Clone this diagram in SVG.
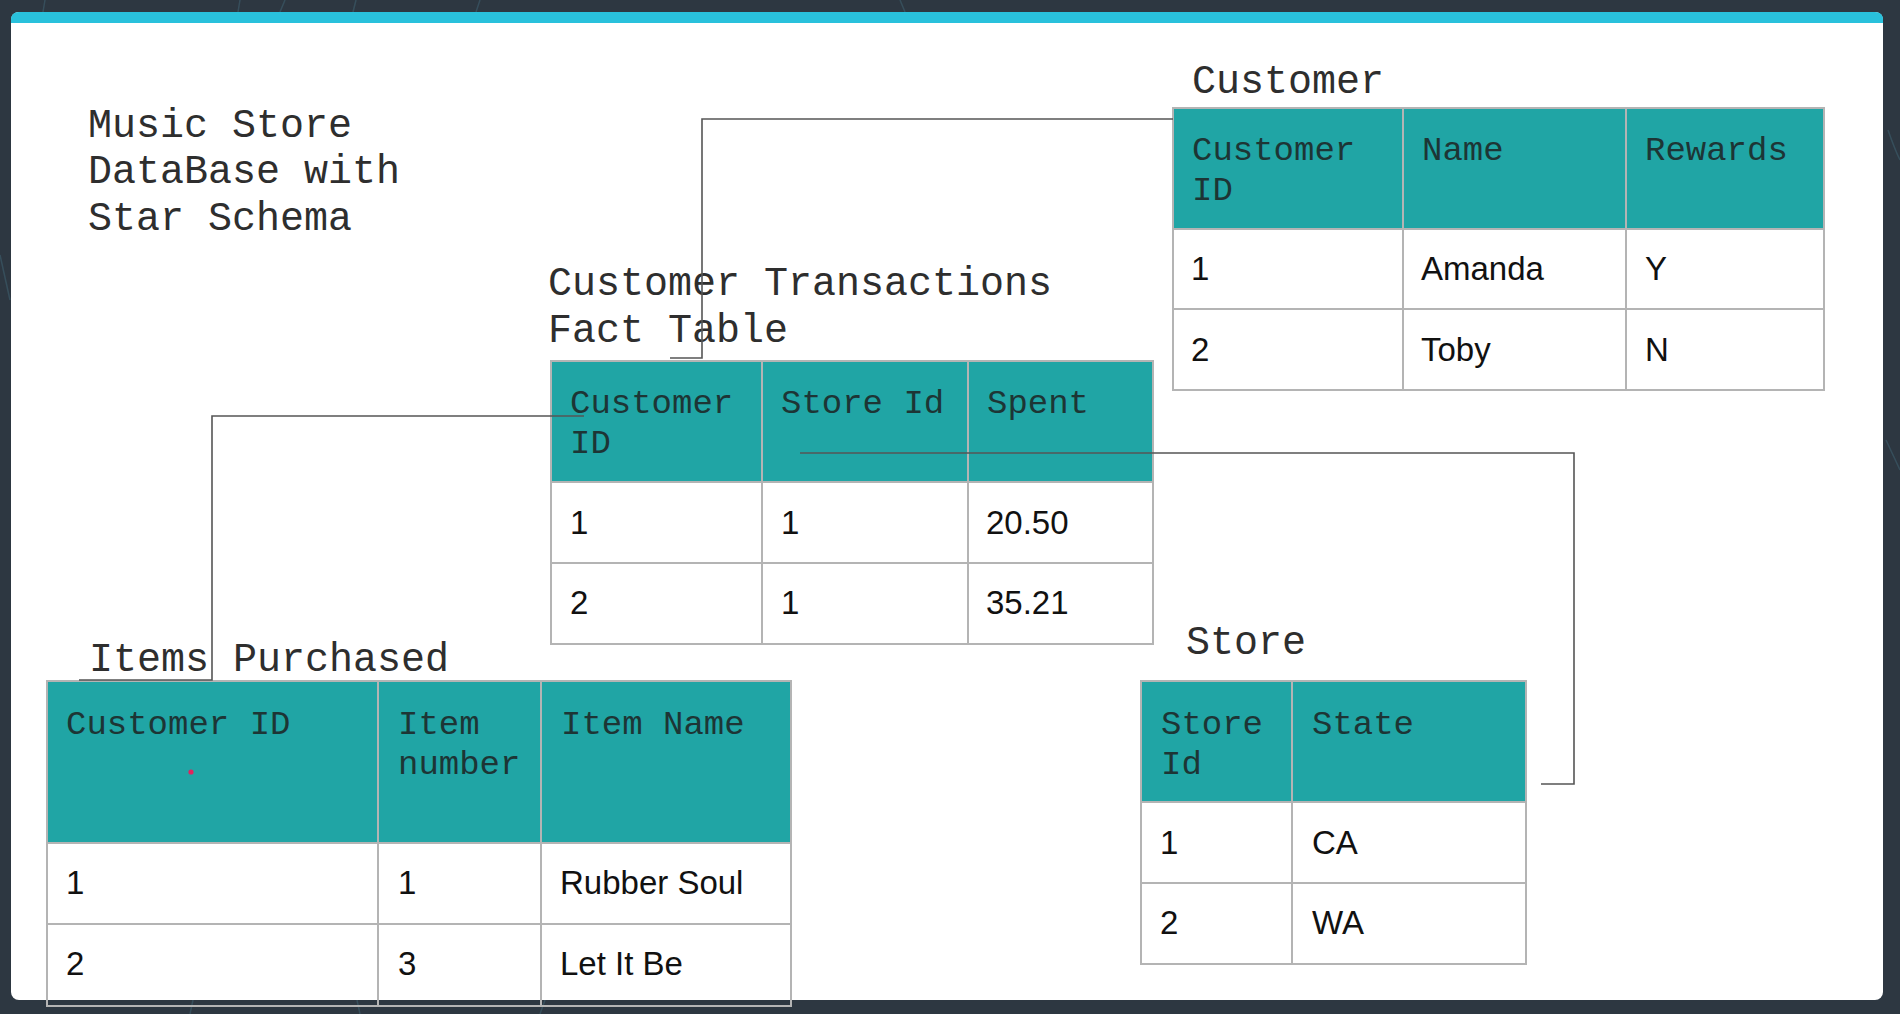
<svg xmlns="http://www.w3.org/2000/svg" width="1900" height="1014" viewBox="0 0 1900 1014">
<style>
.title{font-family:"Liberation Mono","Courier New",monospace;font-size:40px;fill:#2e2e2e}
.hd{font-family:"Liberation Mono","Courier New",monospace;font-size:34px;fill:#1d3535}
.dt{font-family:"Liberation Sans",Arial,sans-serif;font-size:33px;fill:#111}
.hfill{fill:#20a5a5}
.cfill{fill:#ffffff}
.grid{stroke:#b4b4b4;stroke-width:2;fill:none}
.conn{stroke:#555;stroke-width:1.6;fill:none}
.deco{stroke:#3b5866;stroke-width:1.5;fill:none;opacity:0.7}
</style>
<rect x="0" y="0" width="1900" height="1014" fill="#2d3741"/>
<g id="background-lines">
<path class="deco" d="M45 0 L43 12"/>
<path class="deco" d="M240 0 L238 12"/>
<path class="deco" d="M285 0 L280 12"/>
<path class="deco" d="M356 0 L353 12"/>
<path class="deco" d="M480 0 L476 12"/>
<path class="deco" d="M900 0 L905 12"/>
<path class="deco" d="M1888 130 Q1895 150 1900 160"/>
<path class="deco" d="M1886 440 L1900 470"/>
<path class="deco" d="M190 1014 L193 1000"/>
<path class="deco" d="M360 1014 L357 1000"/>
<path class="deco" d="M540 1014 L545 1000"/>
<path class="deco" d="M0 255 L10 300"/>
</g>
<g id="card">
<rect x="11" y="12" width="1872" height="988" rx="8" fill="#ffffff"/>
<path d="M11 23 L11 20 Q11 12 19 12 L1875 12 Q1883 12 1883 20 L1883 23 Z" fill="#29c1dc"/>
</g>
<g id="title">
<text class="title" x="88" y="137">Music Store</text>
<text class="title" x="88" y="183">DataBase with</text>
<text class="title" x="88" y="230">Star Schema</text>
</g>
<g id="customer-table">
<text class="title" x="1192" y="93">Customer</text>
<rect class="hfill" x="1173" y="108" width="651" height="121"/>
<rect class="cfill" x="1173" y="229" width="651" height="161"/>
<path class="grid" d="M1173 108 H1824 V390 H1173 Z M1173 229 H1824 M1173 309 H1824 M1403 108 V390 M1626 108 V390"/>
<text class="hd" x="1192" y="160">Customer</text>
<text class="hd" x="1192" y="200">ID</text>
<text class="hd" x="1422" y="160">Name</text>
<text class="hd" x="1645" y="160">Rewards</text>
<text class="dt" x="1191" y="280">1</text>
<text class="dt" x="1421" y="280">Amanda</text>
<text class="dt" x="1645" y="280">Y</text>
<text class="dt" x="1191" y="361">2</text>
<text class="dt" x="1421" y="361">Toby</text>
<text class="dt" x="1645" y="361">N</text>
</g>
<g id="fact-table">
<text class="title" x="548" y="295">Customer Transactions</text>
<text class="title" x="548" y="342">Fact Table</text>
<rect class="hfill" x="551" y="361" width="602" height="121"/>
<rect class="cfill" x="551" y="482" width="602" height="162"/>
<path class="grid" d="M551 361 H1153 V644 H551 Z M551 482 H1153 M551 563 H1153 M762 361 V644 M968 361 V644"/>
<text class="hd" x="570" y="413">Customer</text>
<text class="hd" x="570" y="453">ID</text>
<text class="hd" x="781" y="413">Store Id</text>
<text class="hd" x="987" y="413">Spent</text>
<text class="dt" x="570" y="534">1</text>
<text class="dt" x="781" y="534">1</text>
<text class="dt" x="986" y="534">20.50</text>
<text class="dt" x="570" y="614">2</text>
<text class="dt" x="781" y="614">1</text>
<text class="dt" x="986" y="614">35.21</text>
</g>
<g id="items-table">
<text class="title" x="89" y="671">Items Purchased</text>
<rect class="hfill" x="47" y="681" width="744" height="162"/>
<rect class="cfill" x="47" y="843" width="744" height="156"/>
<path class="grid" d="M47 681 H791 V1006 H47 Z M47 843 H791 M47 924 H791 M378 681 V1006 M541 681 V1006"/>
<text class="hd" x="66" y="734">Customer ID</text>
<text class="hd" x="398" y="734">Item</text>
<text class="hd" x="398" y="774">number</text>
<text class="hd" x="561" y="734">Item Name</text>
<circle cx="191" cy="772" r="2.6" fill="#e0245e"/>
<text class="dt" x="66" y="894">1</text>
<text class="dt" x="398" y="894">1</text>
<text class="dt" x="560" y="894">Rubber Soul</text>
<text class="dt" x="66" y="975">2</text>
<text class="dt" x="398" y="975">3</text>
<text class="dt" x="560" y="975">Let It Be</text>
</g>
<g id="store-table">
<text class="title" x="1186" y="654">Store</text>
<rect class="hfill" x="1141" y="681" width="385" height="121"/>
<rect class="cfill" x="1141" y="802" width="385" height="162"/>
<path class="grid" d="M1141 681 H1526 V964 H1141 Z M1141 802 H1526 M1141 883 H1526 M1292 681 V964"/>
<text class="hd" x="1161" y="734">Store</text>
<text class="hd" x="1161" y="774">Id</text>
<text class="hd" x="1312" y="734">State</text>
<text class="dt" x="1160" y="854">1</text>
<text class="dt" x="1312" y="854">CA</text>
<text class="dt" x="1160" y="934">2</text>
<text class="dt" x="1312" y="934">WA</text>
</g>
<g id="connectors">
<polyline class="conn" points="1173,119 702,119 702,358 670,358"/>
<polyline class="conn" points="584,416 212,416 212,680 79,680"/>
<polyline class="conn" points="800,453 1574,453 1574,784 1541,784"/>
</g>
</svg>
